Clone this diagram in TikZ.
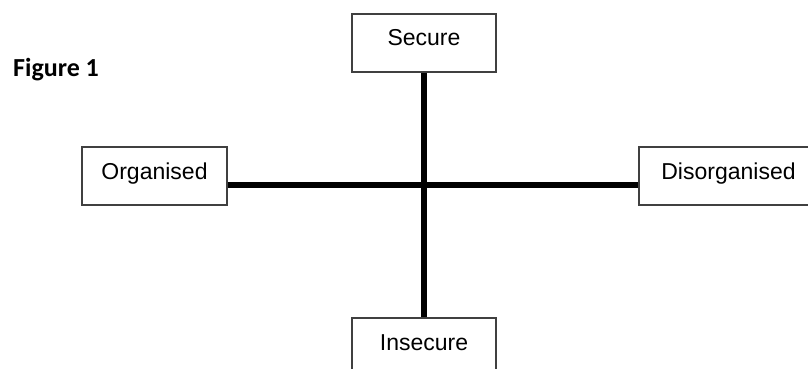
\documentclass[tikz,border=0pt]{standalone}
\usepackage{fontspec}
\setmainfont{Liberation Sans}
\newfontfamily\carl{Carlito}
\begin{document}
\begin{tikzpicture}[x=1pt,y=-1pt,
  boxnode/.style={draw=black!75,line width=1.1pt,fill=white,inner xsep=0pt,inner ysep=0pt,
    text height=32pt,text depth=26pt,font=\fontsize{23}{23}\selectfont},
  axisline/.style={line width=6pt,black}]
\useasboundingbox (0,0) rectangle (808,369);
\clip (0,0) rectangle (808,369);
\coordinate (c) at (424,185);
\node[boxnode,minimum width=144pt] (sec) at (424,43) {Secure};
\node[boxnode,minimum width=145pt] (org) at (154.5,176) {Organised};
\node[boxnode,minimum width=179pt] (dis) at (728.5,176) {Disorganised};
\node[boxnode,minimum width=144pt] (ins) at (424,347) {Insecure};
\draw[axisline] (sec.south) -- (ins.north);
\draw[axisline] (org.east |- c) -- (dis.west |- c);
\node[anchor=base west,inner sep=0pt,font=\carl\bfseries\fontsize{26}{26}\selectfont] (fig) at (13,77) {Figure 1};
\end{tikzpicture}
\end{document}
